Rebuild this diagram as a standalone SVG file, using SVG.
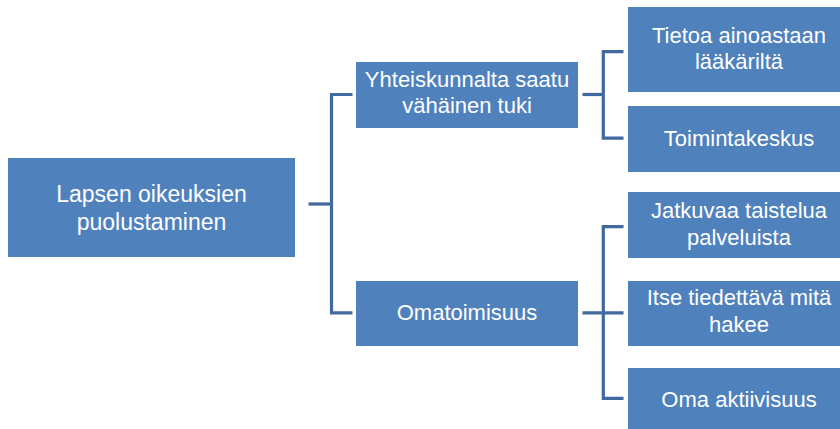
<svg xmlns="http://www.w3.org/2000/svg" width="840" height="429" viewBox="0 0 840 429">
  <style>
    .box { fill: #4F81BD; }
    .lbl { fill: #FFFFFF; font-family: "Liberation Sans", Arial, sans-serif; font-size: 22px; text-anchor: middle; }
    .big { font-size: 23px; }
    .conn { fill: none; stroke: #41699F; stroke-width: 3.2; stroke-linecap: butt; stroke-linejoin: miter; }
  </style>
  <rect width="840" height="429" fill="#FFFFFF"/>

  <!-- connectors -->
  <g id="connectors">
    <path class="conn" d="M308.5,204 H331.5"/>
    <path class="conn" d="M352.5,94.5 H331.5 V312.8 H352.5"/>
    <path class="conn" d="M582.5,94.5 H603.3"/>
    <path class="conn" d="M623.5,51.7 H603.3 V138.2 H623.5"/>
    <path class="conn" d="M582.5,312.8 H623.5"/>
    <path class="conn" d="M623.5,226.7 H603.3 V398.3 H623.5"/>
  </g>

  <!-- root -->
  <g id="root">
    <rect class="box" x="8" y="158" width="287" height="99"/>
    <text class="lbl big" x="151.5" y="201.5">Lapsen oikeuksien</text>
    <text class="lbl big" x="151.5" y="229.5">puolustaminen</text>
  </g>

  <!-- second level -->
  <g id="n-yhteiskunta">
    <rect class="box" x="356" y="62" width="222" height="66"/>
    <text class="lbl" x="467" y="87.3">Yhteiskunnalta saatu</text>
    <text class="lbl" x="467" y="113.3">vähäinen tuki</text>
  </g>
  <g id="n-omatoimisuus">
    <rect class="box" x="356" y="281" width="222" height="65"/>
    <text class="lbl" x="467" y="320">Omatoimisuus</text>
  </g>

  <!-- third level -->
  <g id="n-tietoa">
    <rect class="box" x="628" y="7" width="222" height="85"/>
    <text class="lbl" x="739" y="43.3">Tietoa ainoastaan</text>
    <text class="lbl" x="739" y="69.3">lääkäriltä</text>
  </g>
  <g id="n-toimintakeskus">
    <rect class="box" x="628" y="106" width="222" height="66"/>
    <text class="lbl" x="739" y="145.5">Toimintakeskus</text>
  </g>
  <g id="n-jatkuvaa">
    <rect class="box" x="628" y="192" width="222" height="66"/>
    <text class="lbl" x="739" y="218.3">Jatkuvaa taistelua</text>
    <text class="lbl" x="739" y="245">palveluista</text>
  </g>
  <g id="n-itse">
    <rect class="box" x="628" y="281" width="222" height="65"/>
    <text class="lbl" x="739" y="305">Itse tiedettävä mitä</text>
    <text class="lbl" x="739" y="331.7">hakee</text>
  </g>
  <g id="n-oma">
    <rect class="box" x="628" y="368" width="222" height="66"/>
    <text class="lbl" x="739" y="406.7">Oma aktiivisuus</text>
  </g>
</svg>
